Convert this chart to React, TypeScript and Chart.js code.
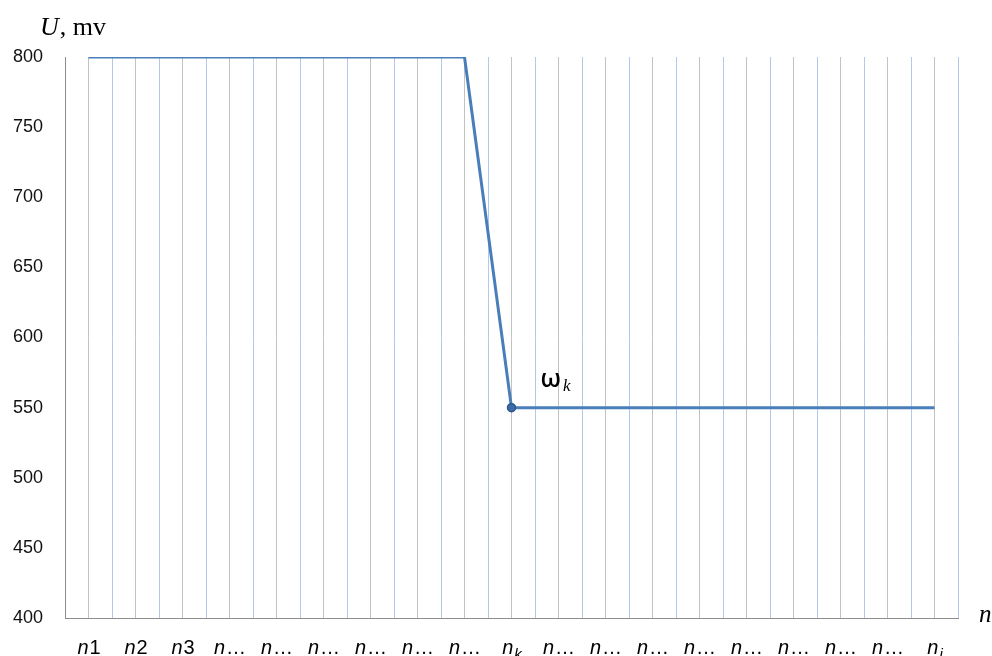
import React, { useEffect, useRef } from "react";
import { Chart, registerables } from "chart.js";

Chart.register(...registerables);

// categories along the n axis
const categories: string[] = [
  "n1", "n2", "n3", "n…", "n…", "n…", "n…", "n…", "n…",
  "nk",
  "n…", "n…", "n…", "n…", "n…", "n…", "n…", "n…",
  "ni",
];
// U, mv values
const voltage: number[] = [
  800, 800, 800, 800, 800, 800, 800, 800, 800,
  550,
  550, 550, 550, 550, 550, 550, 550, 550,
  550,
];
const yTicks: number[] = [400, 450, 500, 550, 600, 650, 700, 750, 800];
const markerLabel = "nk";
const yTitleItalic = "U";
const yTitleRest = ", mv";
const xTitle = "n";
const pointTitle = "ω";
const pointSub = "k";

const LINE = "#4a7ebb";

const textPlugin = {
  id: "customText",
  afterDraw(chart: any) {
    const ctx = chart.ctx;
    const xs = chart.scales.x;
    const ys = chart.scales.y;
    const area = chart.chartArea;
    ctx.save();
    ctx.fillStyle = "#000";
    ctx.textBaseline = "alphabetic";
    // category labels with italic n
    categories.forEach((lab, i) => {
      const x = xs.getPixelForValue(i);
      const base = lab.charAt(0);
      const rest = lab.slice(1);
      const isSub = rest === "k" || rest === "i";
      const fBase = "italic 20px 'Liberation Sans', Arial, sans-serif";
      const fRest = isSub
        ? "italic 15px 'Liberation Sans', Arial, sans-serif"
        : "20px 'Liberation Sans', Arial, sans-serif";
      ctx.font = fBase;
      const wb = ctx.measureText(base).width;
      ctx.font = fRest;
      const wr = ctx.measureText(rest).width;
      const start = x - (wb + wr) / 2;
      const baseY = area.bottom + 36;
      ctx.font = fBase;
      ctx.fillText(base, start, baseY);
      ctx.font = fRest;
      ctx.fillText(rest, start + wb + 1, isSub ? baseY + 5 : baseY);
    });
    // y title
    ctx.font = "italic 26px 'Liberation Serif', 'Times New Roman', serif";
    const wU = ctx.measureText(yTitleItalic).width;
    ctx.fillText(yTitleItalic, 40, 35);
    ctx.font = "26px 'Liberation Serif', 'Times New Roman', serif";
    ctx.fillText(yTitleRest, 40 + wU + 1, 35);
    // x title
    ctx.font = "italic 25px 'Liberation Serif', 'Times New Roman', serif";
    ctx.fillText(xTitle, area.right + 21, area.bottom + 4);
    // point annotation
    const ki = categories.indexOf(markerLabel);
    const px = xs.getPixelForValue(ki);
    const py = ys.getPixelForValue(voltage[ki]);
    ctx.font = "600 25px 'Open Sans', 'Noto Sans', sans-serif";
    const wo = ctx.measureText(pointTitle).width;
    ctx.fillText(pointTitle, px + 29, py - 21);
    ctx.font = "italic 17px 'Liberation Serif', serif";
    ctx.fillText(pointSub, px + 31 + wo, py - 17);
    ctx.restore();
  },
};

export default function App() {
  const ref = useRef<HTMLCanvasElement | null>(null);
  useEffect(() => {
    if (!ref.current) return;
    const ki = categories.indexOf(markerLabel);
    const chart = new Chart(ref.current, {
      type: "line",
      data: {
        labels: categories,
        datasets: [
          {
            data: voltage,
            borderColor: LINE,
            borderWidth: 3,
            tension: 0,
            pointRadius: (c: any) => (c.dataIndex === ki ? 4 : 0),
            pointBackgroundColor: "#3d6ca8",
            pointBorderColor: "#2c578e",
            pointBorderWidth: 1.5,
            fill: false,
          },
        ],
      },
      plugins: [textPlugin],
      options: {
        animation: false,
        responsive: true,
        maintainAspectRatio: false,
        layout: { padding: { left: 0, top: 57, right: 34, bottom: 0 } },
        plugins: {
          legend: { display: false },
          tooltip: { enabled: false },
          title: { display: false },
        },
        scales: {
          x: {
            type: "category",
            offset: true,
            grid: {
              offset: true,
              color: "#b2c9ee",
              lineWidth: 1,
              drawTicks: false,
            },
            border: { display: true, color: "#8c8c8c", width: 1 },
            ticks: { display: false },
            afterFit: (s: any) => {
              s.height = 38;
            },
          },
          x2: {
            type: "category",
            position: "bottom",
            offset: true,
            grid: {
              offset: false,
              color: "#c2c2c2",
              lineWidth: 1,
              drawTicks: false,
            },
            border: { display: false },
            ticks: { display: false },
            afterFit: (s: any) => {
              s.height = 0;
            },
          },
          y: {
            min: 400,
            max: 800,
            afterBuildTicks: (s: any) => {
              s.ticks = yTicks.map((v) => ({ value: v }));
            },
            grid: { display: false, drawTicks: false },
            border: { display: true, color: "#8c8c8c", width: 1 },
            ticks: {
              padding: 22,
              color: "#111",
              font: { family: "'Liberation Sans', Arial, sans-serif", size: 18 },
            },
            afterFit: (s: any) => {
              s.width = 65;
            },
          },
        },
      } as any,
    });
    return () => chart.destroy();
  }, []);
  return (
    <div style={{ position: "absolute", left: 0, top: 0, width: 992, height: 656, background: "#fff" }}>
      <canvas ref={ref} />
    </div>
  );
}
